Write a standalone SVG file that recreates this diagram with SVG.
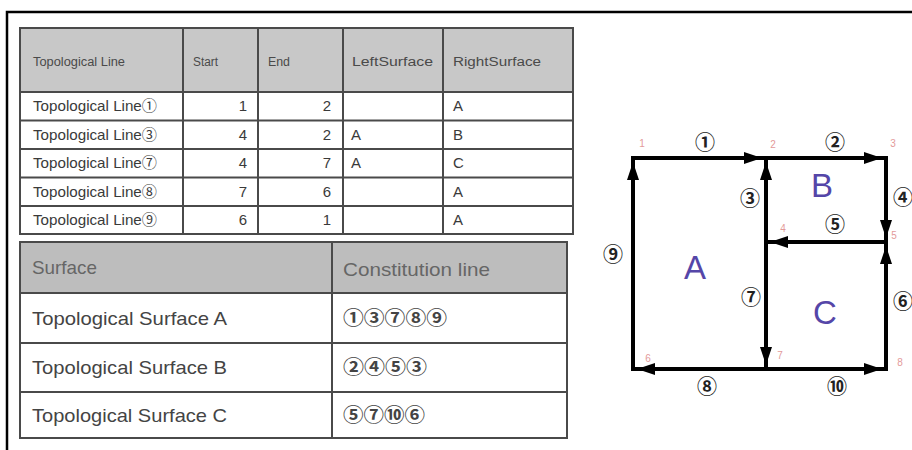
<svg xmlns="http://www.w3.org/2000/svg" width="912" height="450" viewBox="0 0 912 450">
<defs>
<style>
.frame{fill:none;stroke:#000;stroke-width:2.5}
.grid{fill:none;stroke:#4a4a4a;stroke-width:2}
.hdr1{fill:#c8c8c8}
.hdr2{fill:#bdbdbd}
.th{font-family:"Liberation Sans","Noto Sans CJK JP",sans-serif;font-size:12px;fill:#4a4a4a}
.td{font-family:"Liberation Sans","Noto Sans CJK JP",sans-serif;font-size:15px;fill:#3a3a3a}
.bth{font-family:"Liberation Sans","Noto Sans CJK JP",sans-serif;font-size:19px;fill:#666}
.btd{font-family:"Liberation Sans","Noto Sans CJK JP",sans-serif;font-size:19px;fill:#444}
.circ{font-family:"Noto Sans CJK JP","DejaVu Sans",sans-serif;font-size:19px;font-weight:bold;fill:#444}
.edge{stroke:#000;stroke-width:4;stroke-linecap:square;fill:none;marker-end:url(#ah)}
.elab{font-family:"Noto Sans CJK JP","DejaVu Sans",sans-serif;font-size:20px;font-weight:bold;fill:#222;text-anchor:middle}
.area{font-family:"Liberation Sans",sans-serif;font-size:33px;fill:#5546a8;text-anchor:middle}
.vlab{font-family:"Liberation Sans",sans-serif;font-size:10px;fill:#e39a9a;text-anchor:middle}
</style>
<marker id="ah" markerUnits="userSpaceOnUse" markerWidth="26" markerHeight="14" refX="24" refY="7" orient="auto">
<path d="M2,1 L20,7 L2,13 z" fill="#000"/>
</marker>
</defs>
<rect width="912" height="450" fill="#fff"/>
<path class="frame" d="M7,450 V12 H912"/>

<g id="table-lines">
<rect class="hdr1" x="20" y="28" width="553" height="64"/>
<rect class="grid" x="20" y="28" width="553" height="206"/>
<path class="grid" d="M20,92 H573 M20,120.5 H573 M20,149 H573 M20,177.5 H573 M20,206 H573 M183,28 V234 M258,28 V234 M343,28 V234 M443,28 V234"/>
<text class="th" x="33" y="66" textLength="92" lengthAdjust="spacingAndGlyphs">Topological Line</text>
<text class="th" x="193" y="66" textLength="25" lengthAdjust="spacingAndGlyphs">Start</text>
<text class="th" x="268" y="66" textLength="22" lengthAdjust="spacingAndGlyphs">End</text>
<text class="th" x="352" y="66" textLength="81" lengthAdjust="spacingAndGlyphs">LeftSurface</text>
<text class="th" x="453" y="66" textLength="88" lengthAdjust="spacingAndGlyphs">RightSurface</text>
<text class="td" x="33" y="111" textLength="124" lengthAdjust="spacingAndGlyphs">Topological Line①</text>
<text class="td" x="247" y="111" text-anchor="end">1</text>
<text class="td" x="331" y="111" text-anchor="end">2</text>
<text class="td" x="453" y="111">A</text>
<text class="td" x="33" y="139.5" textLength="124" lengthAdjust="spacingAndGlyphs">Topological Line③</text>
<text class="td" x="247" y="139.5" text-anchor="end">4</text>
<text class="td" x="331" y="139.5" text-anchor="end">2</text>
<text class="td" x="351" y="139.5">A</text>
<text class="td" x="453" y="139.5">B</text>
<text class="td" x="33" y="168" textLength="124" lengthAdjust="spacingAndGlyphs">Topological Line⑦</text>
<text class="td" x="247" y="168" text-anchor="end">4</text>
<text class="td" x="331" y="168" text-anchor="end">7</text>
<text class="td" x="351" y="168">A</text>
<text class="td" x="453" y="168">C</text>
<text class="td" x="33" y="196.5" textLength="124" lengthAdjust="spacingAndGlyphs">Topological Line⑧</text>
<text class="td" x="247" y="196.5" text-anchor="end">7</text>
<text class="td" x="331" y="196.5" text-anchor="end">6</text>
<text class="td" x="453" y="196.5">A</text>
<text class="td" x="33" y="225" textLength="124" lengthAdjust="spacingAndGlyphs">Topological Line⑨</text>
<text class="td" x="247" y="225" text-anchor="end">6</text>
<text class="td" x="331" y="225" text-anchor="end">1</text>
<text class="td" x="453" y="225">A</text>
</g>

<g id="table-surfaces">
<rect class="hdr2" x="20" y="242" width="547" height="51"/>
<rect class="grid" x="20" y="242" width="547" height="196"/>
<path class="grid" d="M20,293 H567 M20,343 H567 M20,392 H567 M332,242 V438"/>
<text class="bth" x="32" y="274" textLength="65" lengthAdjust="spacingAndGlyphs">Surface</text>
<text class="bth" x="343" y="276" textLength="147" lengthAdjust="spacingAndGlyphs">Constitution line</text>
<text class="btd" x="32" y="325" textLength="195" lengthAdjust="spacingAndGlyphs">Topological Surface A</text>
<text class="circ" x="343" y="325" textLength="104" lengthAdjust="spacingAndGlyphs">①③⑦⑧⑨</text>
<text class="btd" x="32" y="374" textLength="195" lengthAdjust="spacingAndGlyphs">Topological Surface B</text>
<text class="circ" x="343" y="374" textLength="84" lengthAdjust="spacingAndGlyphs">②④⑤③</text>
<text class="btd" x="32" y="422" textLength="195" lengthAdjust="spacingAndGlyphs">Topological Surface C</text>
<text class="circ" x="343" y="422" textLength="82" lengthAdjust="spacingAndGlyphs">⑤⑦⑩⑥</text>
</g>

<g id="connectors">
<line class="edge" x1="633" y1="158" x2="766" y2="158"/>
<line class="edge" x1="766" y1="158" x2="886" y2="158"/>
<line class="edge" x1="766" y1="242" x2="766" y2="158"/>
<line class="edge" x1="886" y1="158" x2="886" y2="242"/>
<line class="edge" x1="886" y1="242" x2="766" y2="242"/>
<line class="edge" x1="886" y1="369" x2="886" y2="242"/>
<line class="edge" x1="766" y1="242" x2="766" y2="369"/>
<line class="edge" x1="766" y1="369" x2="633" y2="369"/>
<line class="edge" x1="633" y1="369" x2="633" y2="158"/>
<line class="edge" x1="766" y1="369" x2="886" y2="369"/>
<text class="elab" x="705" y="150">①</text>
<text class="elab" x="835" y="150">②</text>
<text class="elab" x="750" y="206">③</text>
<text class="elab" x="903" y="205">④</text>
<text class="elab" x="835" y="232">⑤</text>
<text class="elab" x="903" y="309">⑥</text>
<text class="elab" x="751" y="305">⑦</text>
<text class="elab" x="707" y="394">⑧</text>
<text class="elab" x="613" y="262">⑨</text>
<text class="elab" x="837" y="394">⑩</text>
</g>

<g id="surface-A"><text class="area" x="695" y="279">A</text></g>
<g id="surface-B"><text class="area" x="822" y="197">B</text></g>
<g id="surface-C"><text class="area" x="825" y="324">C</text></g>

<g id="vertex-1"><text class="vlab" x="642" y="147">1</text></g>
<g id="vertex-2"><text class="vlab" x="773" y="148">2</text></g>
<g id="vertex-3"><text class="vlab" x="893" y="147">3</text></g>
<g id="vertex-4"><text class="vlab" x="783" y="232">4</text></g>
<g id="vertex-5"><text class="vlab" x="894" y="239">5</text></g>
<g id="vertex-6"><text class="vlab" x="648" y="362">6</text></g>
<g id="vertex-7"><text class="vlab" x="780" y="359">7</text></g>
<g id="vertex-8"><text class="vlab" x="900" y="366">8</text></g>
</svg>
